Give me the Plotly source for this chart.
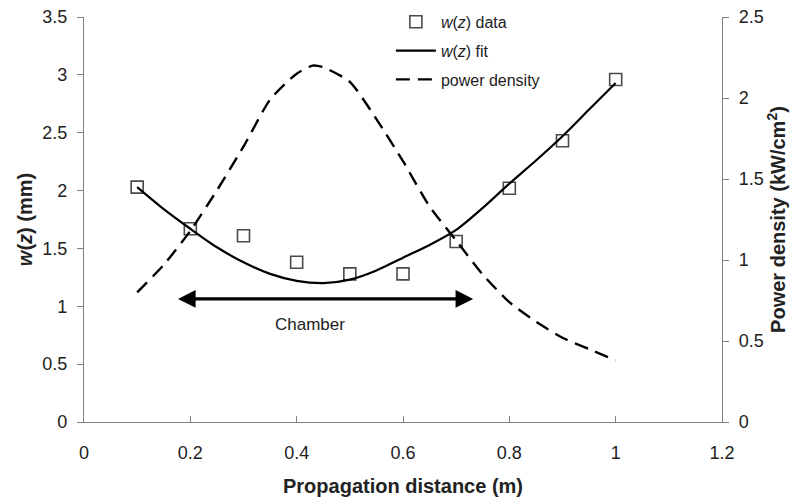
import plotly.graph_objects as go

# Data
z_data = [0.1, 0.2, 0.3, 0.4, 0.5, 0.6, 0.7, 0.8, 0.9, 1.0]
w_data = [2.03, 1.67, 1.61, 1.38, 1.28, 1.28, 1.56, 2.02, 2.43, 2.96]

z_fit = [0.10, 0.15, 0.20, 0.25, 0.30, 0.35, 0.40, 0.45, 0.50, 0.55,
         0.60, 0.65, 0.70, 0.75, 0.80, 0.85, 0.90, 0.95, 1.00]
w_fit = [2.03, 1.84, 1.67, 1.51, 1.38, 1.28, 1.22, 1.20, 1.23, 1.31,
         1.42, 1.53, 1.66, 1.85, 2.06, 2.26, 2.47, 2.70, 2.93]

z_pow = [0.10, 0.15, 0.20, 0.25, 0.30, 0.35, 0.40, 0.43, 0.45, 0.50, 0.55,
         0.60, 0.65, 0.70, 0.75, 0.80, 0.85, 0.90, 0.95, 1.00]
p_pow = [0.80, 0.97, 1.18, 1.43, 1.70, 1.99, 2.15, 2.20, 2.19, 2.10, 1.87,
         1.61, 1.33, 1.12, 0.91, 0.74, 0.62, 0.52, 0.45, 0.38]

x_ticks = [0, 0.2, 0.4, 0.6, 0.8, 1, 1.2]
chamber_start, chamber_end, chamber_level = 0.174, 0.732, 1.064

FONT = "Liberation Sans, Arial, sans-serif"

fig = go.Figure()
fig.add_trace(go.Scatter(
    x=z_data, y=w_data, mode="markers", name="<i>w</i>(<i>z</i>) data", legendgroup="a",
    marker=dict(symbol="square-open", size=12, color="#4a4a4a", line=dict(width=1.6)),
))
fig.add_trace(go.Scatter(
    x=z_fit, y=w_fit, mode="lines", name="<i>w</i>(<i>z</i>) fit", legendgroup="b",
    line=dict(color="black", width=2.2, shape="spline", smoothing=0.8),
))
fig.add_trace(go.Scatter(
    x=z_pow, y=p_pow, mode="lines", name="power density", yaxis="y2", legendgroup="c",
    line=dict(color="black", width=2.4, dash="14px,8px", shape="spline", smoothing=0.6),
))

fig.add_annotation(
    x=chamber_end, y=chamber_level, ax=chamber_start, ay=chamber_level,
    xref="x", yref="y", axref="x", ayref="y",
    text="", showarrow=True, arrowhead=2, arrowside="end+start",
    arrowsize=1.1, arrowwidth=3.2, arrowcolor="black",
)
fig.add_annotation(
    x=0.425, y=0.84, xref="x", yref="y", text="Chamber", showarrow=False,
    font=dict(family=FONT, size=17, color="#222222"),
)

axis_common = dict(
    showgrid=False, zeroline=False, showline=True, linecolor="#808080", linewidth=1.2,
    tickfont=dict(family=FONT, size=18, color="#222222"),
    ticklen=6, tickcolor="#808080", automargin=False,
)

fig.update_layout(
    width=802, height=497,
    margin=dict(l=84, r=80, t=17, b=75, autoexpand=False),
    paper_bgcolor="white", plot_bgcolor="white",
    font=dict(family=FONT, color="#222222"),
    showlegend=True,
    legend=dict(x=0.481, y=1.03, xanchor="left", yanchor="top",
                bgcolor="rgba(0,0,0,0)", font=dict(family=FONT, size=16, color="#222222"),
                tracegroupgap=5, itemwidth=40),
    xaxis=dict(range=[0, 1.2], tickvals=x_ticks, ticktext=[str(v) for v in x_ticks],
               ticks="inside", ticklabelstandoff=14,
               title=dict(text="<b>Propagation distance (m)</b>", font=dict(family=FONT, size=20), standoff=17),
               **axis_common),
    yaxis=dict(range=[0, 3.5], dtick=0.5, ticks="outside", ticklabelstandoff=6,
               title=dict(text="<b><i>w</i>(<i>z</i>) (mm)</b>", font=dict(family=FONT, size=20), standoff=4),
               **axis_common),
    yaxis2=dict(range=[0, 2.5], dtick=0.5, ticks="outside", overlaying="y", side="right",
                ticklabelstandoff=6,
                title=dict(text="<b>Power density (kW/cm<sup>2</sup>)</b>", font=dict(family=FONT, size=20), standoff=6),
                **axis_common),
)

fig.write_html("out.html")
